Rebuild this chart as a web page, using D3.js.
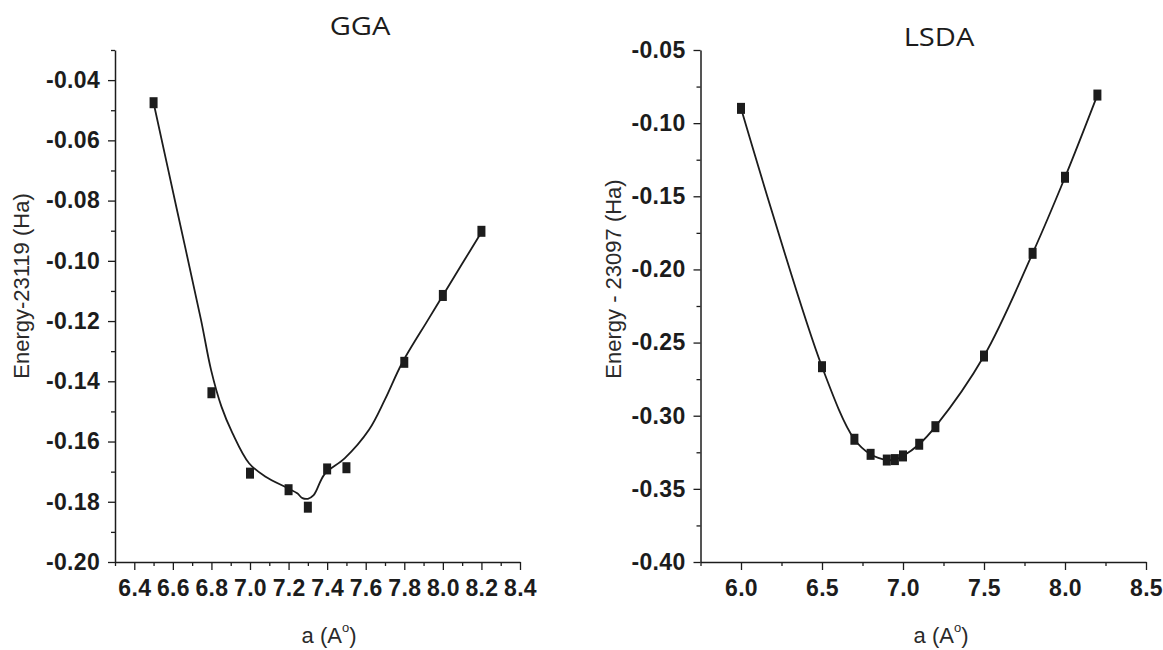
<!DOCTYPE html>
<html>
<head>
<meta charset="utf-8">
<script src="https://cdn.jsdelivr.net/npm/d3@7"></script>
<style>
body{margin:0;background:#fff;}
svg{display:block;}
</style>
</head>
<body>
<div id="chart"></div>
<script>
// GGA panel
var ggaA = [6.5, 6.8, 7.0, 7.2, 7.3, 7.4, 7.5, 7.8, 8.0, 8.2];
var ggaE = [-0.0475, -0.1438, -0.1705, -0.1760, -0.1818, -0.1691, -0.1687, -0.1337, -0.1115, -0.0902];
// fitted curve
var ggaFitA = [6.5, 6.62, 6.746, 6.798, 6.852, 6.909, 6.995, 7.081, 7.196, 7.245, 7.272, 7.30, 7.33, 7.387, 7.492, 7.617, 7.70, 7.788, 7.923, 8.0, 8.1, 8.2];
var ggaFitE = [-0.0475, -0.0827, -0.1196, -0.1362, -0.1484, -0.1572, -0.1672, -0.1717, -0.1755, -0.1772, -0.1788, -0.1790, -0.1778, -0.1708, -0.1655, -0.1561, -0.1460, -0.1340, -0.1196, -0.1115, -0.1010, -0.0905];
var ggaXTicks = [6.4, 6.6, 6.8, 7.0, 7.2, 7.4, 7.6, 7.8, 8.0, 8.2, 8.4];
var ggaYTicks = [-0.20, -0.18, -0.16, -0.14, -0.12, -0.10, -0.08, -0.06, -0.04];

// LSDA panel
var lsdaA = [6.0, 6.5, 6.7, 6.8, 6.9, 6.95, 7.0, 7.1, 7.2, 7.5, 7.8, 8.0, 8.2];
var lsdaE = [-0.0899, -0.2665, -0.3161, -0.3264, -0.3303, -0.3300, -0.3275, -0.3195, -0.3075, -0.2592, -0.1890, -0.1370, -0.0808];
var lsdaXTicks = [6.0, 6.5, 7.0, 7.5, 8.0, 8.5];
var lsdaYTicks = [-0.40, -0.35, -0.30, -0.25, -0.20, -0.15, -0.10, -0.05];

var W = 1163, H = 650;
var ink = '#1c1c1c';
var svg = d3.select('#chart').append('svg').attr('width', W).attr('height', H);

function panel(p) {
    var x = d3.scaleLinear().domain(p.xDom).range([p.left, p.right]);
    var y = d3.scaleLinear().domain(p.yDom).range([p.bottom, p.top]);
    var g = svg.append('g');

    // minor ticks
    g.append('g').attr('transform', 'translate(0,' + p.bottom + ')')
        .call(d3.axisBottom(x).tickValues(p.xMinor).tickSize(4).tickFormat(''))
        .call(s => s.select('.domain').remove());
    g.append('g').attr('transform', 'translate(' + p.left + ',0)')
        .call(d3.axisLeft(y).tickValues(p.yMinor).tickSize(4).tickFormat(''))
        .call(s => s.select('.domain').remove());

    var xa = g.append('g').attr('transform', 'translate(0,' + p.bottom + ')')
        .call(d3.axisBottom(x).tickValues(p.xTicks).tickSize(8).tickSizeOuter(0).tickPadding(10)
            .tickFormat(d => d.toFixed(1)));
    var ya = g.append('g').attr('transform', 'translate(' + p.left + ',0)')
        .call(d3.axisLeft(y).tickValues(p.yTicks).tickSize(7).tickSizeOuter(0).tickPadding(8)
            .tickFormat(d => d.toFixed(2)));
    [xa, ya].forEach(a => {
        a.selectAll('text').style('font-family', '"Liberation Sans", Arial, sans-serif')
            .style('font-size', '23px').style('font-weight', 'bold').style('letter-spacing', '0.3px')
            .attr('fill', ink);
    });
    g.selectAll('.tick line').attr('stroke', ink).attr('stroke-width', 1.3);
    g.selectAll('.domain').attr('stroke', ink).attr('stroke-width', 1.5);

    // curve
    var line = d3.line().x(d => x(d[0])).y(d => y(d[1])).curve(d3.curveCatmullRom.alpha(0.5));
    g.append('path').datum(d3.zip(p.fitA, p.fitE)).attr('d', line)
        .attr('fill', 'none').attr('stroke', ink).attr('stroke-width', 1.8);

    // markers
    g.selectAll('rect.pt').data(d3.zip(p.a, p.e)).enter().append('rect')
        .attr('class', 'pt')
        .attr('x', d => x(d[0]) - 4).attr('y', d => y(d[1]) - 5.5)
        .attr('width', 8).attr('height', 11).attr('fill', ink);

    // titles
    g.append('text').attr('transform', 'translate(' + p.titleX + ',' + p.titleY + ') scale(1.12,1)')
        .attr('text-anchor', 'middle')
        .style('font-family', '"Open Sans", sans-serif').style('font-size', '26px')
        .attr('fill', ink).text(p.title);

    g.append('text').attr('transform', 'translate(' + p.yLabX + ',' + p.yLabY + ') rotate(-90)')
        .attr('text-anchor', 'middle')
        .style('font-family', '"Liberation Sans", Arial, sans-serif').style('font-size', '22px')
        .attr('fill', '#2a2a2a').text(p.yLabel);

    var xl = g.append('text').attr('x', p.xLabX).attr('y', 643).attr('text-anchor', 'middle')
        .style('font-family', '"Liberation Sans", Arial, sans-serif').style('font-size', '22px')
        .attr('fill', '#2a2a2a');
    xl.append('tspan').text('a (A');
    xl.append('tspan').attr('dy', -11).style('font-size', '13px').text('o');
    xl.append('tspan').attr('dy', 11).text(')');
}

panel({
    xDom: [6.3, 8.4], yDom: [-0.20, -0.03],
    left: 115, right: 520, top: 50, bottom: 562,
    xTicks: ggaXTicks, yTicks: ggaYTicks,
    xMinor: d3.range(63, 85, 2).map(v => v / 10),
    yMinor: d3.range(-19, -2, 2).map(v => v / 100),
    a: ggaA, e: ggaE, fitA: ggaFitA, fitE: ggaFitE,
    title: 'GGA', titleX: 360, titleY: 35,
    yLabel: 'Energy-23119 (Ha)', yLabX: 29, yLabY: 286,
    xLabX: 329
});

panel({
    xDom: [5.75, 8.5], yDom: [-0.40, -0.05],
    left: 700.5, right: 1146, top: 50, bottom: 562,
    xTicks: lsdaXTicks, yTicks: lsdaYTicks,
    xMinor: d3.range(5.75, 8.6, 0.5),
    yMinor: d3.range(-0.375, -0.05, 0.05),
    a: lsdaA, e: lsdaE, fitA: lsdaA, fitE: lsdaE,
    title: 'LSDA', titleX: 939, titleY: 46,
    yLabel: 'Energy - 23097 (Ha)', yLabX: 621, yLabY: 279,
    xLabX: 941
});
</script>
</body>
</html>
